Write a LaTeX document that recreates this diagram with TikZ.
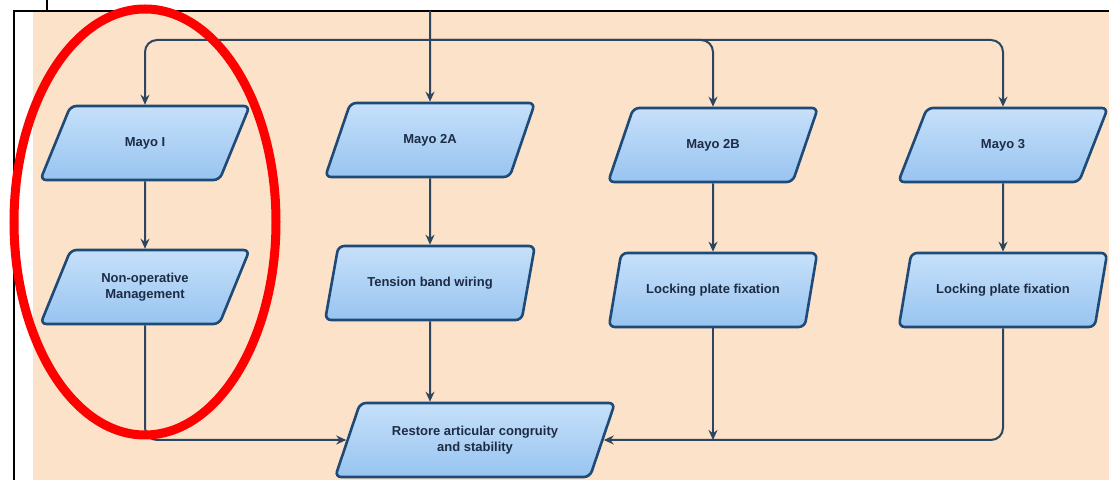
\documentclass[tikz,border=0pt]{standalone}
\usepackage{fontspec}
\setmainfont{Liberation Sans}
\usepackage{tikz}
\usetikzlibrary{shapes,arrows,arrows.meta,positioning}

\definecolor{peach}{HTML}{FCE2C8}
\definecolor{boxtop}{HTML}{C6E0FA}
\definecolor{boxbot}{HTML}{98C4F0}
\definecolor{boxline}{HTML}{1E4A78}
\definecolor{wirecol}{HTML}{2C4660}
\definecolor{boxtext}{HTML}{1C2C44}

\begin{document}
\begin{tikzpicture}[x=0.5pt,y=-0.5pt,
	io/.style={trapezium, trapezium left angle=60, trapezium right angle=120,
		trapezium stretches=true, minimum width=105pt, minimum height=37pt,
		draw=boxline, line width=1.3pt, rounded corners=3pt,
		top color=boxtop, bottom color=boxbot, text=boxtext, align=center,
		font=\fontsize{6.5}{8}\selectfont\bfseries, inner sep=1pt},
	wire/.style={draw=wirecol, line width=1pt, -{Stealth[length=5pt,width=4.5pt]}}]
	\useasboundingbox (0,0) rectangle (1109,480);
	\fill[peach] (33,12) rectangle (1109,480);
	\draw[line width=1pt] (14,480) -- (14,11) -- (1109,11);
	\draw[line width=1pt] (47,0) -- (47,11);

	\node[io] (mayo1) at (145,143) {Mayo I};
	\node[io] (mayo2a) at (430,140) {Mayo 2A};
	\node[io] (mayo2b) at (713,145) {Mayo 2B};
	\node[io] (mayo3) at (1003,145) {Mayo 3};
	\node[io] (nonop) at (145,287) {Non-operative\\Management};
	\node[io] (tension) at (430,283) {Tension band wiring};
	\node[io] (lock2b) at (713,290) {Locking plate fixation};
	\node[io] (lock3) at (1003,290) {Locking plate fixation};
	\node[io, minimum width=140pt] (restore) at (475,440) {Restore articular congruity\\and stability};

	\coordinate (src) at (430,11);
	\coordinate (split) at (430,40);
	\draw [wire] (src) -- (mayo2a);
	\draw [wire, rounded corners=6pt] (split) -| (mayo1);
	\draw [wire, rounded corners=6pt] (split) -| (mayo2b);
	\draw [wire, rounded corners=6pt] (split) -| (mayo3);

	\draw [wire] (mayo1) -- (nonop);
	\draw [wire] (mayo2a) -- (tension);
	\draw [wire] (mayo2b) -- (lock2b);
	\draw [wire] (mayo3) -- (lock3);

	\draw [wire, rounded corners=6pt] (nonop) |- (restore);
	\draw [wire] (tension) -- (tension |- restore.north);
	\draw [wire] (lock2b) -- (lock2b |- restore);
	\draw [wire, rounded corners=6pt] (lock3) |- (restore);

	\draw[red, line width=4.5pt] (145,222) ellipse [x radius=131, y radius=213];
\end{tikzpicture}
\end{document}
